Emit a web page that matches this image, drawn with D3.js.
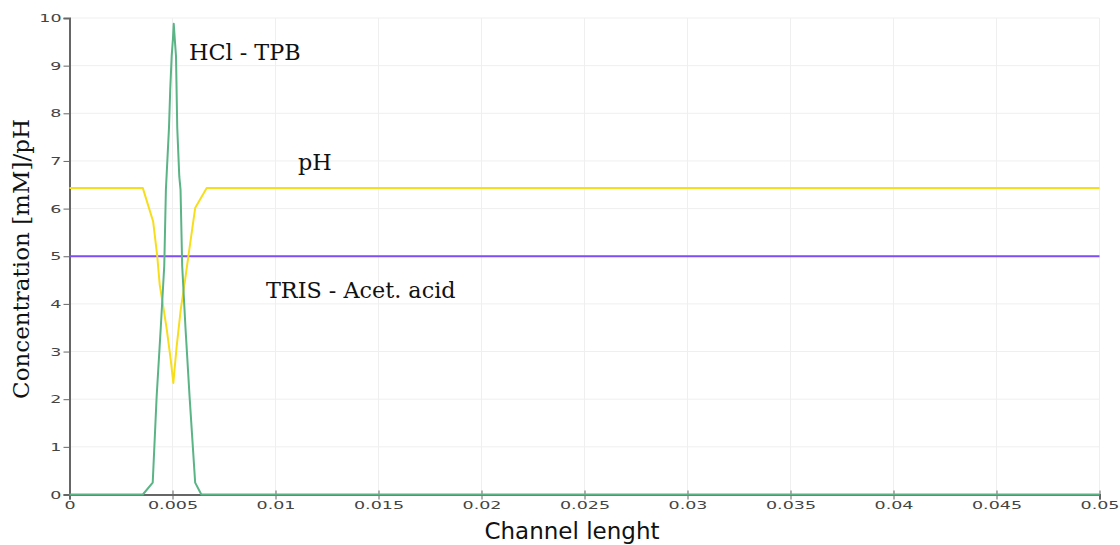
<!DOCTYPE html>
<html>
<head>
<meta charset="utf-8">
<script src="https://cdn.jsdelivr.net/npm/d3@7"></script>
<style>
  html, body { margin: 0; padding: 0; background: #fff; }
  svg { display: block; }
  .tick text { font-family: "DejaVu Sans", sans-serif; font-size: 10px; fill: #444; }
  .note { font-family: "DejaVu Serif", serif; font-size: 22.3px; fill: #111; }
</style>
</head>
<body>
<svg id="chart" width="1120" height="545"></svg>
<script>
// Position along the channel [m]
const xTicks = [0, 0.005, 0.01, 0.015, 0.02, 0.025, 0.03, 0.035, 0.04, 0.045, 0.05];
const yTicks = [0, 1, 2, 3, 4, 5, 6, 7, 8, 9, 10];

// HCl - TPB sample plug (concentration, mM)
const hclX = [0, 0.00356, 0.00404, 0.00423, 0.00443, 0.0046, 0.00468, 0.00483, 0.00489, 0.00496, 0.00502, 0.00506, 0.00512, 0.00517, 0.00523, 0.00533, 0.00539, 0.00547, 0.00563, 0.00583, 0.0061, 0.0064, 0.05];
const hclY = [0, 0, 0.25, 2.05, 3.5, 4.8, 6.4, 7.7, 8.5, 9.2, 9.55, 9.88, 9.5, 9.2, 7.7, 6.67, 6.4, 4.8, 3.5, 2.05, 0.25, 0, 0];

// pH profile
const phX = [0, 0.00356, 0.00406, 0.00426, 0.00438, 0.00452, 0.00472, 0.00491, 0.00504, 0.0052, 0.0054, 0.00561, 0.00577, 0.0061, 0.00666, 0.05];
const phY = [6.43, 6.43, 5.73, 5.0, 4.4, 4.03, 3.47, 2.84, 2.34, 3.1, 3.88, 4.5, 5.0, 6.01, 6.43, 6.43];

// TRIS - acetic acid background electrolyte
const trisX = [0, 0.05];
const trisY = [5, 5];

const svg = d3.select("#chart");
const plotLeft = 69.5, plotRight = 1099.5, plotTop = 18, plotBottom = 494.5;

const x = d3.scaleLinear().domain([0, 0.05]).range([plotLeft, plotRight]);
const y = d3.scaleLinear().domain([0, 10]).range([plotBottom, plotTop]);

// grid
const grid = svg.append("g").attr("stroke", "#efefef").attr("stroke-width", 1);
grid.selectAll("line.v").data(xTicks.slice(1)).join("line").attr("class", "v")
  .attr("x1", d => x(d)).attr("x2", d => x(d)).attr("y1", plotTop).attr("y2", plotBottom);
grid.selectAll("line.h").data(yTicks.slice(1)).join("line").attr("class", "h")
  .attr("x1", plotLeft).attr("x2", plotRight).attr("y1", d => y(d)).attr("y2", d => y(d));

// axes
const xAxis = svg.append("g").attr("transform", `translate(0,${plotBottom})`)
  .call(d3.axisBottom(x).tickValues(xTicks).tickFormat(d => String(d)).tickSize(5).tickPadding(2));
const yAxis = svg.append("g").attr("transform", `translate(${plotLeft},0)`)
  .call(d3.axisLeft(y).tickValues(yTicks).tickFormat(d => String(d)).tickSize(6).tickPadding(3));

[xAxis, yAxis].forEach(a => {
  a.select(".domain").attr("stroke", "#666").attr("stroke-width", 2);
  a.selectAll(".tick line").attr("stroke", "#666");
});
xAxis.selectAll(".tick line").attr("y1", -4);
xAxis.selectAll(".tick text").attr("transform", "scale(1.75,1)");
yAxis.selectAll(".tick text").attr("transform", "scale(1.75,1)")
  .attr("x", -8 / 1.75).attr("dy", "0.36em");

// series
const line = d3.line().x(d => x(d[0])).y(d => y(d[1]));
const series = [
  { xs: trisX, ys: trisY, color: "#7d4ef5" },
  { xs: phX, ys: phY, color: "#f7de1c" },
  { xs: hclX, ys: hclY, color: "#5bb486" }
];
series.forEach(s => {
  svg.append("path")
    .datum(s.xs.map((v, i) => [v, s.ys[i]]))
    .attr("d", line)
    .attr("fill", "none")
    .attr("stroke", s.color)
    .attr("stroke-width", 2)
    .attr("stroke-linejoin", "round");
});

// labels on the curves
svg.append("text").attr("class", "note").attr("x", 189).attr("y", 60).text("HCl - TPB");
svg.append("text").attr("class", "note").attr("x", 298).attr("y", 170).text("pH");
svg.append("text").attr("class", "note").attr("x", 266).attr("y", 298).text("TRIS - Acet. acid");

// axis titles
svg.append("text")
  .attr("x", 572).attr("y", 539)
  .attr("text-anchor", "middle")
  .attr("font-family", "DejaVu Sans, sans-serif").attr("font-size", 23).attr("fill", "#111")
  .text("Channel lenght");
svg.append("text")
  .attr("transform", `translate(29,259) rotate(-90)`)
  .attr("text-anchor", "middle")
  .attr("font-family", "DejaVu Serif, serif").attr("font-size", 23).attr("fill", "#111")
  .text("Concentration [mM]/pH");
</script>
</body>
</html>
